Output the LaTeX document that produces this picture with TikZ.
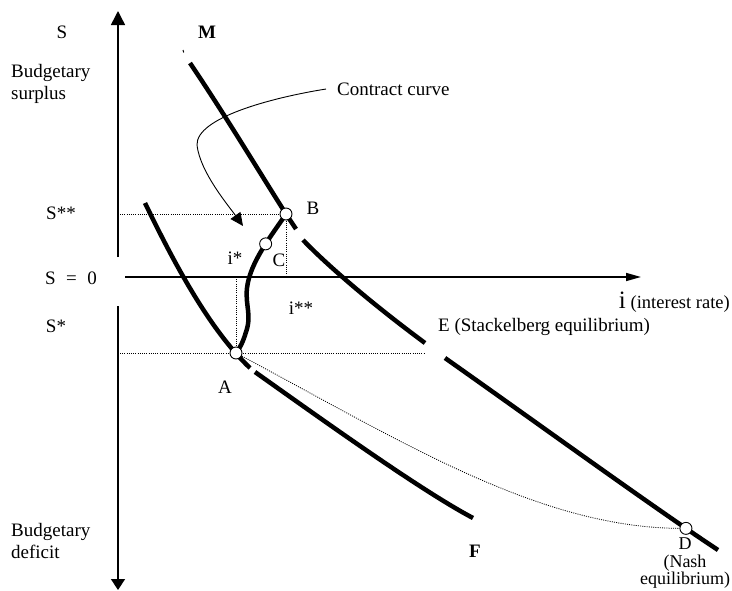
\documentclass[tikz,border=0pt]{standalone}
\usepackage{fontspec}
\setmainfont{Liberation Serif}
\usetikzlibrary{arrows.meta}
\begin{document}
\begin{tikzpicture}[x=1pt,y=-1pt,
  axisline/.style={line width=1.5pt},
  boldcurve/.style={line width=4.5pt},
  guide/.style={line width=0.8pt, dash pattern=on 1pt off 1.2pt},
  thinarrow/.style={line width=0.9pt,-{Triangle[length=13pt,width=12pt]}},
  eqpt/.style={circle,draw,fill=white,line width=0.9pt,minimum size=12pt,inner sep=0pt},
  lbl/.style={font=\fontsize{19}{19}\selectfont,inner sep=0pt},
]
\useasboundingbox (0,0) rectangle (732,590);

% axes
\coordinate (vtop) at (118,11);
\coordinate (vup) at (118,257);
\coordinate (vdown) at (118,306);
\coordinate (vbot) at (118,590);
\coordinate (hstart) at (125,277);
\coordinate (hend) at (641,277);
\draw[axisline,-{Triangle[length=14pt,width=14pt]}] (vup) -- (vtop);
\draw[axisline,-{Triangle[length=11pt,width=14pt]}] (vdown) -- (vbot);
\draw[axisline,-{Triangle[length=15pt,width=8pt]}] (hstart) -- (hend);

% key points
\coordinate (B) at (286,214);
\coordinate (A) at (236,353);

% M curve (pieces)
\draw[line width=1pt] (183,50) -- (183.7,52.5);
\draw[boldcurve] (190,63) .. controls (225,115) and (255,165) .. (B) -- (296,229);
\draw[boldcurve] (303,240) .. controls (330,268) and (375,306) .. (425,343);
\draw[boldcurve] (445,358) .. controls (540,425) and (650,505) .. coordinate[pos=0.855] (D) (718,550);

% F curve (pieces)
\draw[boldcurve] (145,203) .. controls (175,265) and (210,330) .. (250,368);
\draw[boldcurve] (255,372) .. controls (320,418) and (420,490) .. (473,518);

% contract curve
\draw[boldcurve] (B) .. controls (272,235) and (250,262) .. coordinate[pos=0.43] (C) (247,288)
  .. controls (245,305) and (252,315) .. (246,332)
  .. controls (243,342) and (240,348) .. (A);

% dotted guides
\draw[guide] (120,214) -- (B);
\draw[guide] (B) -- (B |- hstart);
\draw[guide] (120,353) -- (A) -- (425,353);
\draw[guide] (A |- hstart) -- (A);
\draw[guide] (A) .. controls (400,440) and (540,530) .. (D);

% equilibrium points
\node[eqpt] (nB) at (B) {};
\node[eqpt] (nC) at (C) {};
\node[eqpt] (nA) at (A) {};
\node[eqpt] (nD) at (D) {};

% labels
\node[lbl] (lS) at (62,32) {S};
\node[lbl,font=\fontsize{19}{22}\selectfont,align=left,anchor=west] (lsur) at (11,84) {Budgetary\\surplus};
\node[lbl,font=\fontsize{19}{22}\selectfont,align=left,anchor=west] (ldef) at (11,541) {Budgetary\\deficit};
\node[lbl,font=\fontsize{19}{22}\selectfont\bfseries] (lM) at (207,32) {M};
\node[lbl,font=\fontsize{19}{22}\selectfont\bfseries] (lF) at (475,551) {F};
\node[lbl] (lSss) at (61,213) {S**};
\node[lbl] (lS0) at (71,278) {S\hspace{0.55em}=\hspace{0.55em}0};
\node[lbl] (lSs) at (56,326) {S*};
\node[lbl] (lis) at (235,258) {i*};
\node[lbl] (liss) at (301,308) {i**};
\node[lbl] (lB) at (313,208) {B};
\node[lbl] (lC) at (279,260) {C};
\node[lbl] (lA) at (225,387) {A};
\node[lbl,anchor=west] (lE) at (438,327) {E (Stackelberg equilibrium)};
\node[lbl,anchor=east] (li) at (730,302) {{\fontsize{25}{25}\selectfont i} {\fontsize{18.5}{19}\selectfont (interest rate)}};
\node[lbl,font=\fontsize{18}{17.5}\selectfont,align=center,anchor=south] (lD) at (685,589) {D\\(Nash\\equilibrium)};
\node[lbl,anchor=west] (lcc) at (337,89) {Contract curve};

% contract curve pointer
\draw[thinarrow] ([xshift=-11pt]lcc.west) .. controls (270,98) and (196,118) .. (197,145)
  .. controls (200,172) and (228,205) .. (243,226);
\end{tikzpicture}
\end{document}
